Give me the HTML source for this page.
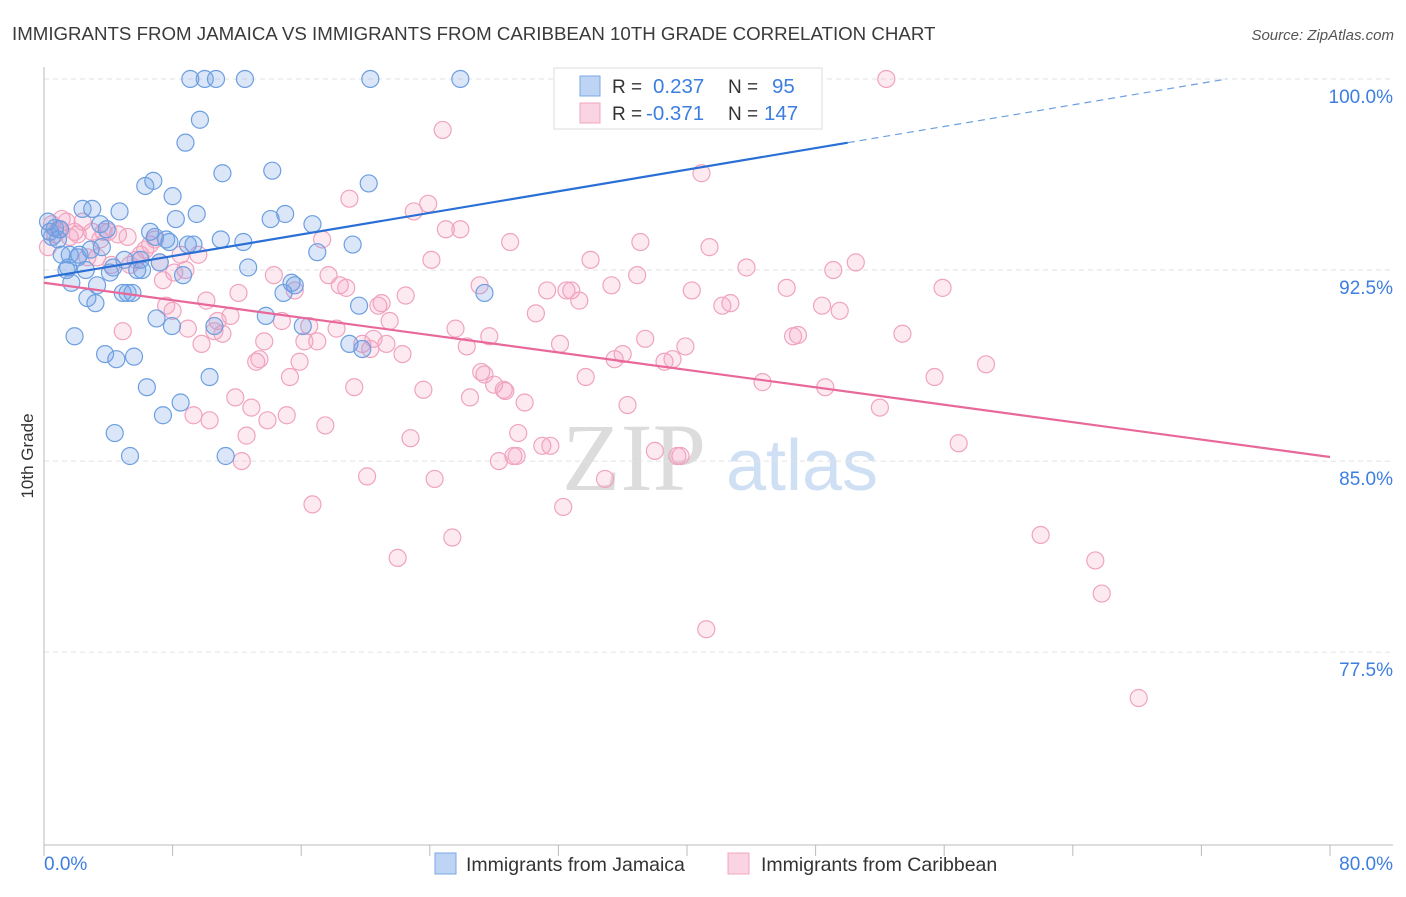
<!DOCTYPE html>
<html><head><meta charset="utf-8"><style>
body{margin:0;background:#fff;width:1406px;height:892px;overflow:hidden;font-family:"Liberation Sans",sans-serif;}
</style></head><body>
<svg id="chart" width="1406" height="892" xmlns="http://www.w3.org/2000/svg" font-family="Liberation Sans, sans-serif">
<text x="12" y="40" font-size="18.7" fill="#3a3a3a">IMMIGRANTS FROM JAMAICA VS IMMIGRANTS FROM CARIBBEAN 10TH GRADE CORRELATION CHART</text>
<text x="1394" y="40" font-size="15" fill="#555" font-style="italic" text-anchor="end">Source: ZipAtlas.com</text>
<g>
<text x="634" y="490" font-size="96" font-family="Liberation Serif, serif" fill="#dcdcdc" text-anchor="middle">ZIP</text>
<text x="802" y="490" font-size="72" fill="#cfe0f4" text-anchor="middle">atlas</text>
</g>
<g id="grid"></g>
<g id="axes"></g>
<g id="pts"></g>
<g id="trends"></g>
<text transform="translate(33,456) rotate(-90)" font-size="17" fill="#333" text-anchor="middle">10th Grade</text>
<g>
<rect x="554" y="68" width="268" height="61" fill="#fff" stroke="#ddd"/>
<rect x="580" y="76" width="20" height="20" fill="rgba(110,160,230,0.45)" stroke="#7aa7e4"/>
<rect x="580" y="103" width="20" height="20" fill="rgba(245,160,190,0.45)" stroke="#f2a6c0"/>
<text x="612" y="93" font-size="19" fill="#333">R = </text><text x="653" y="93" font-size="20.5" fill="#3d7ee0">0.237</text>
<text x="728" y="93" font-size="19" fill="#333">N = </text><text x="772" y="93" font-size="20.5" fill="#3d7ee0">95</text>
<text x="612" y="120" font-size="19" fill="#333">R = </text><text x="646" y="120" font-size="20.5" fill="#3d7ee0">-0.371</text>
<text x="728" y="120" font-size="19" fill="#333">N = </text><text x="764" y="120" font-size="20.5" fill="#3d7ee0">147</text>
</g>
<g>
<rect x="435" y="853" width="21" height="21" fill="rgba(110,160,230,0.45)" stroke="#7aa7e4"/>
<text x="466" y="871" font-size="19.5" fill="#333">Immigrants from Jamaica</text></g>
<g>
<rect x="728" y="853" width="21" height="21" fill="rgba(245,160,190,0.45)" stroke="#f2a6c0"/>
<text x="761" y="871" font-size="19.5" fill="#333">Immigrants from Caribbean</text></g>
</svg>
<script>
const yTicks=[100,92.5,85,77.5];
const yTickLabels=["100.0%","92.5%","85.0%","77.5%"];
const xTicks=[0,8,16,24,32,40,48,56,64,72,80];
const xEndLabels=["0.0%","80.0%"];
const jamX=[.25,.37,.5,.68,.87,1,1.1,1.4,1.5,1.6,1.7,1.9,2.1,2.2,2.4,2.6,2.7,2.9,3,3.2,3.3,3.5,3.6,3.8,3.9,4.1,4.3,4.4,4.5,4.7,4.9,5,5.2,5.35,5.5,5.6,5.8,6,6.1,6.3,6.4,6.6,6.8,6.9,7,7.2,7.4,7.6,7.8,7.96,8,8.2,8.5,8.65,8.8,8.95,9.1,9.3,9.5,9.7,10,10.3,10.6,10.7,11,11.1,11.3,12.4,12.5,12.7,13.8,14.1,14.2,14.9,15,15.4,15.6,16.1,16.7,17,19,19.2,19.6,19.8,20.2,20.3,25.9,27.4,42.7];
const jamY=[94.4,94,93.8,94.15,93.7,94.1,93.1,92.5,92.6,93.1,92,89.9,93,93.1,94.9,92.5,91.4,93.3,94.9,91.2,91.9,94.3,93.4,89.2,94.1,92.4,92.6,86.1,89,94.8,91.6,92.9,91.6,85.2,91.6,89.1,92.5,92.9,92.5,95.8,87.9,94,96,93.8,90.6,92.8,86.8,93.7,93.6,90.3,95.4,94.5,87.3,92.3,97.5,93.5,100,93.5,94.7,98.4,100,88.3,90.3,100,93.7,96.3,85.2,93.6,100,92.6,90.7,94.5,96.4,91.6,94.7,92,91.9,90.3,94.3,93.2,89.6,93.5,91.1,89.4,95.9,100,100,91.6,100];
const carX=[.25,.5,.7,.9,1.1,1.4,1.6,1.9,2.1,2.4,2.7,3,3.3,3.5,3.7,4,4.2,4.6,4.9,5.2,5.35,5.7,6,6.3,6.6,6.9,7.2,7.4,7.6,8,8.1,8.5,8.8,8.95,9.3,9.6,9.8,10.1,10.3,10.6,10.8,11.1,11.6,11.9,12.1,12.3,12.6,12.9,13.2,13.4,13.7,13.9,14.3,14.8,15.1,15.3,15.6,15.9,16.2,16.5,16.7,17,17.3,17.5,17.7,18.2,18.4,18.8,19,19.3,19.8,20.1,20.3,20.5,20.8,21,21.3,21.5,22,22.3,22.5,22.8,23,23.6,23.9,24.1,24.3,24.8,25,25.4,25.6,25.9,26.3,26.5,27.1,27.2,27.4,27.7,28,28.3,28.6,28.7,29,29.2,29.4,29.5,29.9,30.6,31,31.3,31.5,32.1,32.3,32.5,32.8,33.3,33.7,34,34.9,35.3,35.5,36,36.3,36.9,37.1,37.4,38,38.6,39.1,39.4,39.6,39.9,40.3,40.9,41.2,41.4,42.2,42.7,43.7,44.7,46.2,46.6,46.9,48.4,48.6,49.1,49.5,50.5,52,52.4,53.4,55.4,55.9,56.9,58.6,62,65.4,65.8,68.1];
const carY=[93.4,94.3,93.9,94.1,94.5,94.4,93.8,94,93.9,94.4,93,94,93,93.7,94,94,92.7,93.9,90.1,93.8,92.7,92.9,93.1,93.3,93.5,93.7,92.8,92.1,91.1,90.9,92.4,93.1,92.5,90.2,86.8,93.1,89.6,91.3,86.6,90.1,90.5,90,90.7,87.5,91.6,85,86,87.1,88.9,89,89.7,86.6,92.3,90.5,86.8,88.3,91.7,88.9,89.7,90.3,83.3,89.7,93.7,86.4,92.3,90.2,91.9,91.8,95.3,87.9,89.6,84.4,89.4,89.8,91.1,91.2,89.6,90.5,81.2,89.2,91.5,85.9,94.8,87.8,95.1,92.9,84.3,98,94.1,82,90.2,94.1,89.5,87.5,91.9,88.5,88.4,89.9,88,85,87.8,87.75,93.6,85.2,85.2,86.1,87.3,90.8,85.6,91.7,85.6,89.6,83.2,91.7,91.7,91.3,88.3,92.9,84.3,91.9,89,89.2,87.2,92.3,93.6,89.8,85.4,88.9,89,85.2,85.2,89.5,91.7,96.3,78.4,93.4,91.1,91.2,92.6,88.1,91.8,89.9,89.95,91.1,87.9,92.5,90.9,92.8,87.1,100,90,88.3,91.8,85.7,88.8,82.1,81.1,79.8,75.7];
const jamTrend=[92.2,0.106];   // intercept, slope
const carTrend=[92.0,-0.0855];
const X0=44,X1=1330,yMin=69.93,yMax=100.47,PT=67,PB=845;
const sx=v=>X0+(v-0)/(80-0)*(X1-X0);
const sy=v=>PB-(v-yMin)/(yMax-yMin)*(PB-PT);
const NS="http://www.w3.org/2000/svg";
function mk(tag,attrs,parent){const e=document.createElementNS(NS,tag);for(const k in attrs)e.setAttribute(k,attrs[k]);parent.appendChild(e);return e;}
const grid=document.getElementById('grid'),axes=document.getElementById('axes'),pts=document.getElementById('pts'),tr=document.getElementById('trends');
yTicks.forEach((t,i)=>{
 const l=mk('line',{x1:X0,x2:1393,y1:sy(t),y2:sy(t),stroke:'#e2e2e2','stroke-dasharray':'5,4'},grid);
 
 
 const tx=mk('text',{x:1393,y:sy(t)+24,'font-size':19,fill:'#3d7ee0','text-anchor':'end'},axes);
 tx.textContent=yTickLabels[i];
 
 
});
mk('line',{x1:X0,x2:X0,y1:PT,y2:PB,stroke:'#bbb'},axes);
mk('line',{x1:X0,x2:1393,y1:PB,y2:PB,stroke:'#bbb'},axes);
xTicks.forEach(t=>{
 const l=mk('line',{x1:sx(t),x2:sx(t),y1:PB,y2:PB+11,stroke:'#bbb'},axes);
 
 
});
const xl0=mk('text',{x:44,y:870,'font-size':19,fill:'#3d7ee0'},axes);xl0.textContent=xEndLabels[0];


const xl1=mk('text',{x:1393,y:870,'font-size':19,fill:'#3d7ee0','text-anchor':'end'},axes);xl1.textContent=xEndLabels[1];


carX.forEach((x,i)=>{
 const c=mk('circle',{cx:sx(x),cy:sy(carY[i]),r:8.5,fill:'rgba(245,160,190,0.22)',stroke:'#f0a3bf','stroke-width':1.2},pts);
 
 
});
jamX.forEach((x,i)=>{
 const c=mk('circle',{cx:sx(x),cy:sy(jamY[i]),r:8.5,fill:'rgba(110,160,230,0.25)',stroke:'#6d9fe0','stroke-width':1.2},pts);
 
 
});
const jf=x=>jamTrend[0]+jamTrend[1]*x;
const jEnd=(100-jamTrend[0])/jamTrend[1];
const bl=mk('line',{x1:sx(0),y1:sy(jf(0)),x2:sx(50),y2:sy(jf(50)),stroke:'#2a6fd6','stroke-width':2.2},tr);


const bd=mk('line',{x1:sx(50),y1:sy(jf(50)),x2:sx(jEnd),y2:sy(100),stroke:'#6d9fe0','stroke-width':1.2,'stroke-dasharray':'7,5'},tr);


const cf=x=>carTrend[0]+carTrend[1]*x;
const pl=mk('line',{x1:sx(0),y1:sy(cf(0)),x2:sx(80),y2:sy(cf(80)),stroke:'#e8689a','stroke-width':2.2},tr);


</script>
</body></html>
